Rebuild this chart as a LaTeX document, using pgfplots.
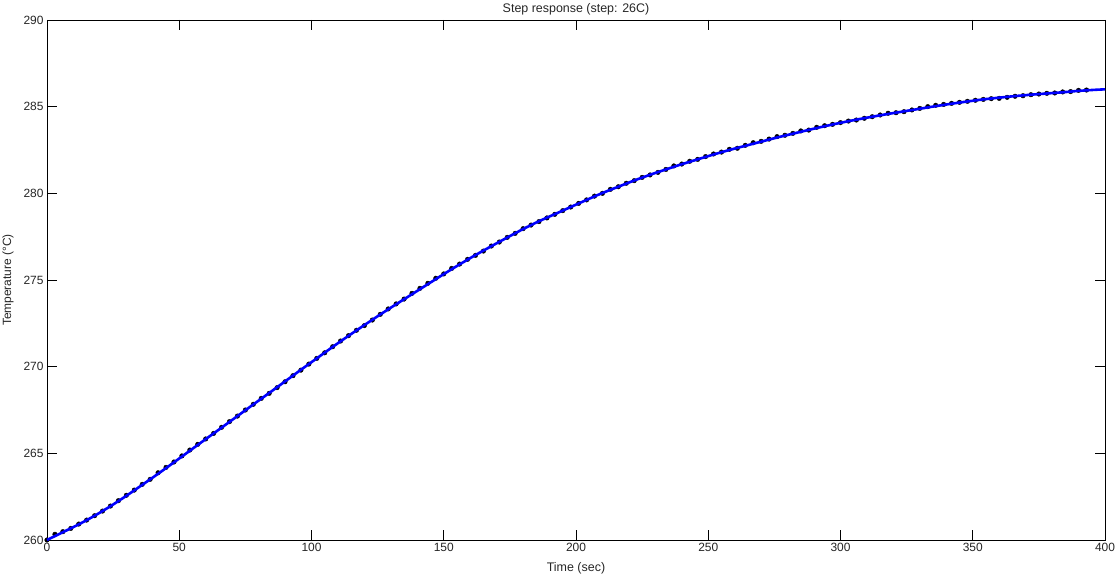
\documentclass[border=0pt]{standalone}
\usepackage{fontspec}
\setmainfont{Liberation Sans}
\usepackage{pgfplots}
\usepackage{pgfplotstable}
\pgfplotsset{compat=1.18}
\pgfplotstableread{
t y
0 260.00
3 260.33
6 260.48
9 260.67
12 260.92
15 261.15
18 261.40
21 261.67
24 261.96
27 262.27
30 262.58
33 262.88
36 263.21
39 263.50
42 263.88
45 264.19
48 264.50
51 264.85
54 265.19
57 265.52
60 265.83
63 266.15
66 266.50
69 266.83
72 267.15
75 267.50
78 267.83
81 268.17
84 268.46
87 268.79
90 269.13
93 269.48
96 269.80
99 270.15
102 270.48
105 270.80
108 271.15
111 271.48
114 271.79
117 272.10
120 272.37
123 272.69
126 273.02
129 273.33
132 273.62
135 273.90
138 274.23
141 274.52
144 274.81
147 275.10
150 275.35
153 275.67
156 275.92
159 276.19
162 276.42
165 276.67
168 276.96
171 277.19
174 277.46
177 277.69
180 277.96
183 278.17
186 278.37
189 278.58
192 278.79
195 279.00
198 279.21
201 279.42
204 279.62
207 279.84
210 280.00
213 280.23
216 280.38
219 280.58
222 280.73
225 280.92
228 281.06
231 281.21
234 281.38
237 281.58
240 281.69
243 281.85
246 281.96
249 282.12
252 282.27
255 282.38
258 282.54
261 282.60
264 282.77
267 282.92
270 283.00
273 283.13
276 283.27
279 283.35
282 283.46
285 283.60
288 283.65
291 283.81
294 283.90
297 283.98
300 284.08
303 284.17
306 284.23
309 284.33
312 284.42
315 284.52
318 284.62
321 284.65
324 284.71
327 284.81
330 284.90
333 285.00
336 285.08
339 285.13
342 285.19
345 285.25
348 285.31
351 285.37
354 285.42
357 285.46
360 285.48
363 285.54
366 285.60
369 285.63
372 285.69
375 285.73
378 285.77
381 285.79
384 285.85
387 285.87
390 285.94
393 285.96
}\dots
\pgfplotstableread{
t y
0 260.00
6 260.45
12 260.90
18 261.40
24 261.95
30 262.55
36 263.18
42 263.82
48 264.48
54 265.15
60 265.82
66 266.48
72 267.15
78 267.82
84 268.48
90 269.15
96 269.82
102 270.48
108 271.14
114 271.78
120 272.40
126 273.01
132 273.60
138 274.18
144 274.76
150 275.34
156 275.90
162 276.44
168 276.95
174 277.45
180 277.94
186 278.39
192 278.80
198 279.21
204 279.62
210 280.02
216 280.38
222 280.74
228 281.07
234 281.38
240 281.68
246 281.96
252 282.24
258 282.50
264 282.74
270 282.98
276 283.22
282 283.44
288 283.66
294 283.87
300 284.07
306 284.25
312 284.42
318 284.58
324 284.73
330 284.88
336 285.03
342 285.17
348 285.30
354 285.42
360 285.52
366 285.61
372 285.69
378 285.76
384 285.83
390 285.91
396 285.97
400 286.00
}\fit
\begin{document}
\begin{tikzpicture}
\begin{axis}[
  set layers,
  at={(0,0)}, anchor=south west,
  scale only axis,
  width=1058bp, height=520bp,
  xmin=0, xmax=400, ymin=260, ymax=290,
  xtick={0,50,...,400}, ytick={260,265,...,290},
  tick align=inside,
  major tick length=10bp,
  tick style={black, line width=0.9bp},
  axis line style={black, line width=0.9bp},
  tick label style={font=\fontsize{12}{14}\selectfont, text=black!85},
  /pgf/number format/assume math mode=true,
  title style={font=\fontsize{12.5}{14}\selectfont, text=black!85, yshift=-5bp},
  title={Step response (step: 26C)},
  xlabel={Time (sec)},
  ylabel={Temperature (°C)},
  xlabel style={font=\fontsize{12.5}{14}\selectfont, text=black!85, yshift=-4bp},
  ylabel style={font=\fontsize{12}{14}\selectfont, text=black!85, yshift=3bp},
  clip=false,
]
\addplot[only marks, mark=*, mark size=2.3bp, black, on layer=axis background, mark layer=axis background] table[x=t, y=y] {\dots};
\addplot[blue, line width=2.6bp, smooth, tension=0.4, mark layer=like plot] table[x=t, y=y] {\fit};
\end{axis}
\pgfresetboundingbox
\path[use as bounding box] (-47bp,-36bp) rectangle (1069bp,540bp);
\end{tikzpicture}
\end{document}
